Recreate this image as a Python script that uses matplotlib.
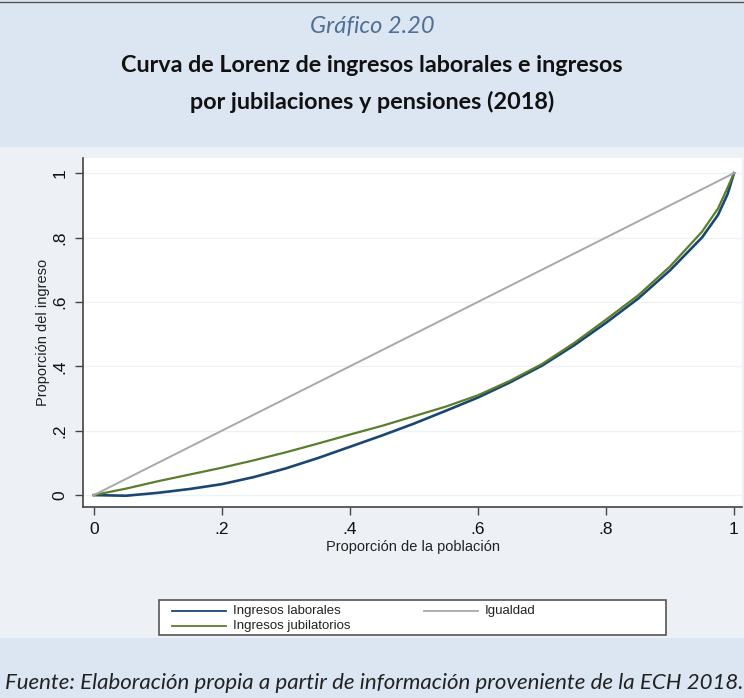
import numpy as np
import matplotlib
matplotlib.use("Agg")
import matplotlib.pyplot as plt
from matplotlib.patches import Rectangle
from matplotlib.lines import Line2D

# data
poblacion = [0.0, 0.05, 0.1, 0.15, 0.2, 0.25, 0.3, 0.35, 0.4, 0.45, 0.5, 0.55,
             0.6, 0.65, 0.7, 0.75, 0.8, 0.85, 0.9, 0.95, 0.975, 0.99, 1.0]
laborales = [0.0, -0.002, 0.007, 0.019, 0.034, 0.056, 0.083, 0.115, 0.15, 0.185, 0.222, 0.262,
             0.303, 0.35, 0.402, 0.465, 0.535, 0.61, 0.698, 0.80, 0.87, 0.935, 1.0]
jubilatorios = [0.0, 0.02, 0.043, 0.064, 0.085, 0.108, 0.133, 0.16, 0.188, 0.215, 0.245, 0.275,
                0.31, 0.355, 0.407, 0.472, 0.545, 0.62, 0.71, 0.818, 0.89, 0.955, 1.0]
igualdad = [0.0, 1.0]
ticks = [0, 0.2, 0.4, 0.6, 0.8, 1]
tick_labels = ["0", ".2", ".4", ".6", ".8", "1"]

W, H = 744, 698
fig = plt.figure(figsize=(W / 100, H / 100), dpi=100)
fig.patch.set_facecolor("#dce6f2")

# lighter band behind the stata graph
fig.patches.append(Rectangle((0, 1 - 638 / H), 1, (638 - 147) / H, transform=fig.transFigure,
                             facecolor="#edf1f6", edgecolor="none", zorder=-5))

sans = ["Liberation Sans", "DejaVu Sans"]
cal = ["Lato", "DejaVu Sans"]

fig.text(0.5, 1 - 27 / H, "Gráfico 2.20", ha="center", va="center", family=cal,
         style="italic", fontsize=17, color="#4f6f95")
fig.text(0.5, 1 - 65 / H, "Curva de Lorenz de ingresos laborales e ingresos", ha="center",
         va="center", family=cal, fontweight="bold", fontsize=16.8, color="#111111")
fig.text(0.5, 1 - 102 / H, "por jubilaciones y pensiones (2018)", ha="center",
         va="center", family=cal, fontweight="bold", fontsize=16.8, color="#111111")
fig.text(0.007, 1 - 683 / H,
         "Fuente: Elaboración propia a partir de información proveniente de la ECH 2018.",
         ha="left", va="center", family=cal, style="italic", fontsize=16, color="#222222")

ax = fig.add_axes([83 / W, 1 - 507 / H, (742 - 83) / W, (507 - 158) / H])
ax.set_facecolor("white")

l1, = ax.plot(poblacion, laborales, color="#1a476f", lw=1.9, label="Ingresos laborales")
l2, = ax.plot(poblacion, jubilatorios, color="#5a7d2e", lw=1.6, label="Ingresos jubilatorios")
l3, = ax.plot(igualdad, igualdad, color="#a8a8a8", lw=1.4, label="Igualdad")

ax.set_xlim(-0.017, 1.0125)
ax.set_ylim(-0.037, 1.047)
ax.set_xticks(ticks)
ax.set_xticklabels(tick_labels, family=sans, fontsize=12.5, color="#111111")
ax.set_yticks(ticks)
ax.set_yticklabels(tick_labels, family=sans, fontsize=12.5, rotation=90, va="center",
                   color="#111111")
ax.tick_params(direction="out", length=6, width=1, color="#444444", pad=5)
ax.grid(axis="y", color="#eef2f4", lw=1)
ax.set_axisbelow(True)
for s in ["top", "right"]:
    ax.spines[s].set_visible(False)
for s in ["left", "bottom"]:
    ax.spines[s].set_color("#444444")
    ax.spines[s].set_linewidth(1.2)

ax.set_xlabel("Proporción de la población", family=sans, fontsize=10.5, color="#222222", labelpad=2)
ax.set_ylabel("Proporción del ingreso", family=sans, fontsize=10.5, color="#222222", labelpad=2)

# stata-style legend box drawn by hand (wide box, two columns)
fig.patches.append(Rectangle((159 / W, 1 - 635 / H), (666 - 159) / W, (635 - 600) / H,
                             transform=fig.transFigure, facecolor="white",
                             edgecolor="#555555", lw=1.2, zorder=2))
entries = [(l1, 172, 611), (l3, 424, 611), (l2, 172, 626)]
for line, x0, y0 in entries:
    yy = 1 - y0 / H
    fig.add_artist(Line2D([x0 / W, (x0 + 54) / W], [yy, yy], transform=fig.transFigure,
                          color=line.get_color(), lw=1.3, zorder=3))
    fig.text((x0 + 61) / W, yy, line.get_label(), ha="left", va="center", family=sans,
             fontsize=9.5, color="#222222", zorder=3)

fig.add_artist(Line2D([0, 1], [1 - 2 / H, 1 - 2 / H], transform=fig.transFigure,
                      color="#555555", lw=1))

fig.savefig("out.png", dpi=100, facecolor=fig.get_facecolor())
